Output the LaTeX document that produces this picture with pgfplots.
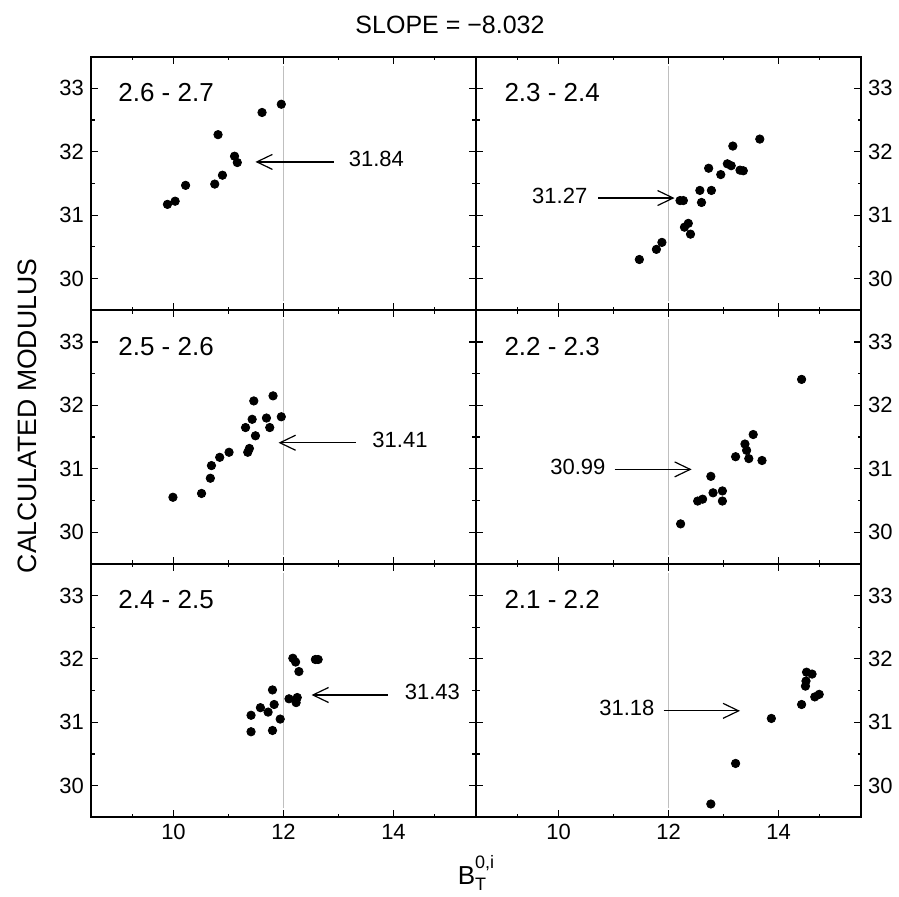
\documentclass[border=0pt]{standalone}
\usepackage{fontspec}
\setmainfont{Liberation Sans}
\usepackage{pgfplots}
\pgfplotsset{compat=1.18}
\usetikzlibrary{arrows.meta}
\tikzset{
  arr/.style={-{Straight Barb[length=7.8pt,width=7.5pt]}, line width=0.6pt},
  albl/.style={font=\fontsize{11}{13}\selectfont, inner sep=0pt, yshift=-2.5pt},
  plbl/.style={font=\fontsize{13}{15}\selectfont, inner sep=0pt, anchor=base west},
}
\pgfplotsset{
  panel/.style={
    scale only axis, width=192.5pt, height=126.75pt,
    xmin=8.5, xmax=15.5, ymin=29.5, ymax=33.5,
    xtick={10,12,14}, minor xtick={9.25,11,13,14.75},
    ytick={30,31,32,33}, minor ytick={30.5,31.5,32.5},
    tick align=inside, tick pos=both,
    major tick length=3.5pt, minor tick length=1.75pt,
    every tick/.style={black, line width=0.6pt},
    axis line style={line width=1pt},
    tick label style={font=\fontsize{11}{13}\selectfont},
    /pgf/number format/assume math mode=true,
    clip=false,
  },
  leftcol/.style={panel},
  rightcol/.style={panel, yticklabel pos=right},
  nox/.style={xticklabels={}},
  pts/.style={only marks, mark=*, mark size=2.1pt, black},
  refl/.style={no marks, black!25, line width=0.5pt},
}
\begin{document}
\begin{tikzpicture}
\path[use as bounding box] (0,0) rectangle (449.5pt,448pt);
% ---------- top left ----------
\begin{axis}[leftcol, nox, at={(45.5pt,292.9pt)}, anchor=south west]
\addplot[refl] coordinates {(12,29.64) (12,33.36)};
\addplot[pts] coordinates {
(9.89,31.17) (10.03,31.22) (10.22,31.47) (10.75,31.49) (10.89,31.63)
(10.81,32.27) (11.11,31.93) (11.16,31.83) (11.61,32.62) (11.96,32.75)};
\draw[arr] (axis cs:12.91,31.84) -- (axis cs:11.49,31.84);
\node[albl, anchor=base west] at (axis cs:13.18,31.84) {31.84};
\node[plbl] at (rel axis cs:0.07,0.822) {2.6 - 2.7};
\end{axis}
% ---------- top right ----------
\begin{axis}[rightcol, nox, at={(238pt,292.9pt)}, anchor=south west]
\addplot[refl] coordinates {(12,29.64) (12,33.36)};
\addplot[pts] coordinates {
(11.47,30.30) (11.78,30.46) (11.88,30.57) (12.21,31.23) (12.27,31.23)
(12.29,30.81) (12.36,30.87) (12.40,30.70) (12.57,31.39) (12.60,31.20)
(12.73,31.74) (12.78,31.39) (12.95,31.64) (13.07,31.81) (13.14,31.78)
(13.17,32.09) (13.30,31.71) (13.36,31.70) (13.66,32.20)};
\draw[arr] (axis cs:10.72,31.27) -- (axis cs:12.11,31.27);
\node[albl, anchor=base east] at (axis cs:10.53,31.27) {31.27};
\node[plbl] at (rel axis cs:0.073,0.822) {2.3 - 2.4};
\end{axis}
% ---------- middle left ----------
\begin{axis}[leftcol, nox, at={(45.5pt,166.1pt)}, anchor=south west]
\addplot[refl] coordinates {(12,29.64) (12,33.36)};
\addplot[pts] coordinates {
(9.99,30.55) (10.51,30.61) (10.67,30.85) (10.69,31.05) (10.84,31.18)
(11.01,31.26) (11.35,31.26) (11.38,31.32) (11.49,31.52) (11.31,31.65)
(11.43,31.78) (11.46,32.07) (11.69,31.80) (11.75,31.65) (11.81,32.15)
(11.96,31.82)};
\draw[arr] (axis cs:13.31,31.41) -- (axis cs:11.91,31.41);
\node[albl, anchor=base west] at (axis cs:13.61,31.41) {31.41};
\node[plbl] at (rel axis cs:0.07,0.822) {2.5 - 2.6};
\end{axis}
% ---------- middle right ----------
\begin{axis}[rightcol, nox, at={(238pt,166.1pt)}, anchor=south west]
\addplot[refl] coordinates {(12,29.64) (12,33.36)};
\addplot[pts] coordinates {
(12.22,30.13) (12.53,30.49) (12.62,30.52) (12.77,30.88) (12.81,30.62)
(12.98,30.65) (12.98,30.49) (13.22,31.19) (13.39,31.39) (13.42,31.29)
(13.46,31.16) (13.54,31.54) (13.70,31.13) (14.42,32.41)};
\draw[arr] (axis cs:11.02,30.99) -- (axis cs:12.42,30.99);
\node[albl, anchor=base east] at (axis cs:10.86,30.99) {30.99};
\node[plbl] at (rel axis cs:0.073,0.822) {2.2 - 2.3};
\end{axis}
% ---------- bottom left ----------
\begin{axis}[leftcol, at={(45.5pt,39.35pt)}, anchor=south west]
\addplot[refl] coordinates {(12,29.64) (12,33.36)};
\addplot[pts] coordinates {
(11.41,31.11) (11.41,30.85) (11.58,31.23) (11.72,31.16) (11.80,31.51)
(11.83,31.28) (11.80,30.87) (11.94,31.05) (12.10,31.37) (12.17,32.01)
(12.22,31.95) (12.25,31.39) (12.23,31.31) (12.28,31.80) (12.58,31.99)
(12.63,31.99)};
\draw[arr] (axis cs:13.90,31.43) -- (axis cs:12.51,31.43);
\node[albl, anchor=base west] at (axis cs:14.2,31.43) {31.43};
\node[plbl] at (rel axis cs:0.07,0.822) {2.4 - 2.5};
\end{axis}
% ---------- bottom right ----------
\begin{axis}[rightcol, at={(238pt,39.35pt)}, anchor=south west]
\addplot[refl] coordinates {(12,29.64) (12,33.36)};
\addplot[pts] coordinates {
(12.77,29.71) (13.22,30.35) (13.87,31.06) (14.42,31.28) (14.49,31.57)
(14.50,31.65) (14.51,31.79) (14.61,31.76) (14.66,31.40) (14.74,31.44)};
\draw[arr] (axis cs:11.91,31.18) -- (axis cs:13.30,31.18);
\node[albl, anchor=base east] at (axis cs:11.75,31.18) {31.18};
\node[plbl] at (rel axis cs:0.073,0.822) {2.1 - 2.2};
\end{axis}
% ---------- labels ----------
\node[anchor=base, font=\fontsize{12.5}{15}\selectfont, inner sep=0pt] at (225pt,431pt) {SLOPE = −8.032};
\node[anchor=base, rotate=90, font=\fontsize{13.3}{15}\selectfont, inner sep=0pt] at (18pt,240pt) {CALCULATED MODULUS};
\node[anchor=base, inner sep=0pt, font=\fontsize{13}{15}\selectfont] at (238pt,6pt)
  {B\rlap{\raisebox{-0.5ex}{\fontsize{9}{9}\selectfont T}}\raisebox{1.15ex}{\fontsize{9}{9}\selectfont 0,i}};
\end{tikzpicture}
\end{document}
